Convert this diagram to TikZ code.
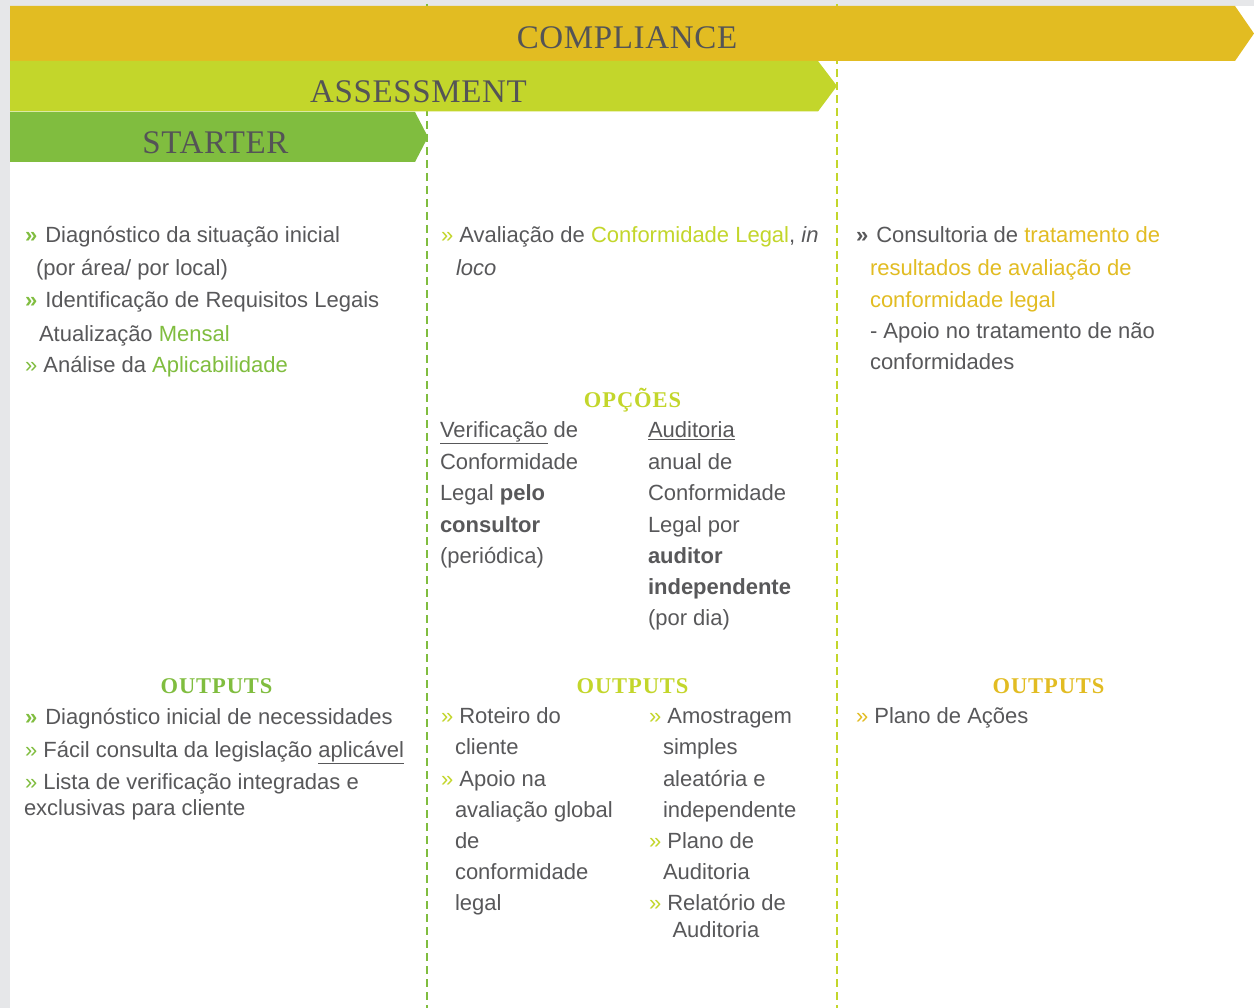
\documentclass[tikz,border=0pt]{standalone}
\usepackage{fontspec}
\setmainfont{Liberation Sans}
\newfontfamily\ttlfont[LetterSpace=2]{Liberation Serif}
\newfontfamily\hdrfont[LetterSpace=4]{Liberation Serif}
\definecolor{comp}{HTML}{E2BC22}
\definecolor{assess}{HTML}{C3D62B}
\definecolor{start}{HTML}{80BD3F}
\definecolor{dgray}{HTML}{58585A}
\definecolor{tgray}{HTML}{545456}
\definecolor{bggray}{HTML}{E6E7E9}
\newcommand{\bq}[1]{\textcolor{#1}{\textbf{»}}\hspace{2pt} }
\tikzset{
  ln/.style={anchor=base west, inner sep=0pt, outer sep=0pt, text=dgray, font=\fontsize{22}{26}\selectfont},
  ttl/.style={anchor=base, inner sep=0pt, text=tgray, font=\ttlfont\fontsize{33}{36}\selectfont},
  hdr/.style={anchor=base, inner sep=0pt, font=\hdrfont\bfseries\fontsize{22.5}{26}\selectfont},
  sep/.style={dash pattern=on 8pt off 5pt, line width=2pt},
}
\begin{document}
\begin{tikzpicture}[x=1pt,y=-1pt]
\useasboundingbox (0,0) rectangle (1254,1008);
\fill[white] (0,0) rectangle (1254,1008);
\fill[bggray] (0,0) rectangle (1254,6);
\fill[bggray] (0,0) rectangle (10,1008);
% separators
\coordinate (s1t) at (427,4); \coordinate (s1b) at (427,1008);
\coordinate (s2t) at (837,4); \coordinate (s2b) at (837,1008);
\draw[sep, start] (s1t) -- (s1b);
\draw[sep, assess] (s2t) -- (s2b);
% bands
\fill[comp] (10,6) -- (1235,6) -- (1254,33.5) -- (1235,61) -- (10,61) -- cycle;
\fill[assess] (10,61) -- (818,61) -- (837,86) -- (818,111.5) -- (10,111.5) -- cycle;
\fill[start] (10,112) -- (415,112) -- (428,137) -- (415,162) -- (10,162) -- cycle;
\node[ttl] (tcomp) at (627,49) {COMPLIANCE};
\node[ttl] (tass) at (418.5,103) {ASSESSMENT};
\node[ttl] (tsta) at (215.5,154) {STARTER};
% column 1
\node[ln] (a1) at (25,243) {\bq{start}Diagnóstico da situação inicial};
\node[ln] (a2) at (36,275.5) {(por área/ por local)};
\node[ln] (a3) at (25,307.5) {\bq{start}Identificação de Requisitos Legais};
\node[ln] (a4) at (39,341.5) {Atualização \textcolor{start}{Mensal}};
\node[ln] (a5) at (25,372.5) {\textcolor{start}{»} Análise da \textcolor{start}{Aplicabilidade}};
\node[hdr, text=start] (out1) at (216.5,693) {OUTPUTS};
\node[ln] (o1) at (25,724) {\bq{start}Diagnóstico inicial de necessidades};
\node[ln] (o2) at (25,757) {\textcolor{start}{»} Fácil consulta da legislação \underline{aplicável}};
\node[ln] (o3) at (25,789) {\textcolor{start}{»} Lista de verificação integradas e};
\node[ln] (o4) at (24,815) {exclusivas para cliente};
% column 2
\node[ln] (b1) at (441,243) {\textcolor{assess}{»} Avaliação de \textcolor{assess}{Conformidade Legal}, \textit{in}};
\node[ln] (b2) at (456,275.5) {\textit{loco}};
\node[hdr, text=assess] (opc) at (632.5,408) {OPÇÕES};
\node[ln] (v1) at (440,437.5) {\underline{Verificação} de};
\node[ln] (v2) at (440,469) {Conformidade};
\node[ln] (v3) at (440,500.5) {Legal \textbf{pelo}};
\node[ln] (v4) at (440,532) {\textbf{consultor}};
\node[ln] (v5) at (440,563) {(periódica)};
\node[ln] (w1) at (648,437.5) {\underline{Auditoria}};
\node[ln] (w2) at (648,469) {anual de};
\node[ln] (w3) at (648,500.5) {Conformidade};
\node[ln] (w4) at (648,532) {Legal por};
\node[ln] (w5) at (648,563) {\textbf{auditor}};
\node[ln] (w6) at (648,594.5) {\textbf{independente}};
\node[ln] (w7) at (648,625) {(por dia)};
\node[hdr, text=assess] (out2) at (632.5,693) {OUTPUTS};
\node[ln] (p1) at (441,723.5) {\textcolor{assess}{»} Roteiro do};
\node[ln] (p2) at (455,754.5) {cliente};
\node[ln] (p3) at (441,786) {\textcolor{assess}{»} Apoio na};
\node[ln] (p4) at (455,817) {avaliação global};
\node[ln] (p5) at (455,848.5) {de};
\node[ln] (p6) at (455,879.5) {conformidade};
\node[ln] (p7) at (455,910.5) {legal};
\node[ln] (q1) at (649,723.5) {\textcolor{assess}{»} Amostragem};
\node[ln] (q2) at (663,754.5) {simples};
\node[ln] (q3) at (663,786) {aleatória e};
\node[ln] (q4) at (663,817) {independente};
\node[ln] (q5) at (649,848.5) {\textcolor{assess}{»} Plano de};
\node[ln] (q6) at (663,879.5) {Auditoria};
\node[ln] (q7) at (649,910.5) {\textcolor{assess}{»} Relatório de};
\node[ln] (q8) at (672.5,937) {Auditoria};
% column 3
\node[ln] (c1) at (856,243) {\bq{dgray}Consultoria de \textcolor{comp}{tratamento de}};
\node[ln] (c2) at (870,275.5) {\textcolor{comp}{resultados de avaliação de}};
\node[ln] (c3) at (870,307.5) {\textcolor{comp}{conformidade legal}};
\node[ln] (c4) at (870,338.5) {- Apoio no tratamento de não};
\node[ln] (c5) at (870,369.5) {conformidades};
\node[hdr, text=comp] (out3) at (1048.5,693) {OUTPUTS};
\node[ln] (r1) at (856,723.5) {\textcolor{comp}{»} Plano de Ações};
\end{tikzpicture}
\end{document}
